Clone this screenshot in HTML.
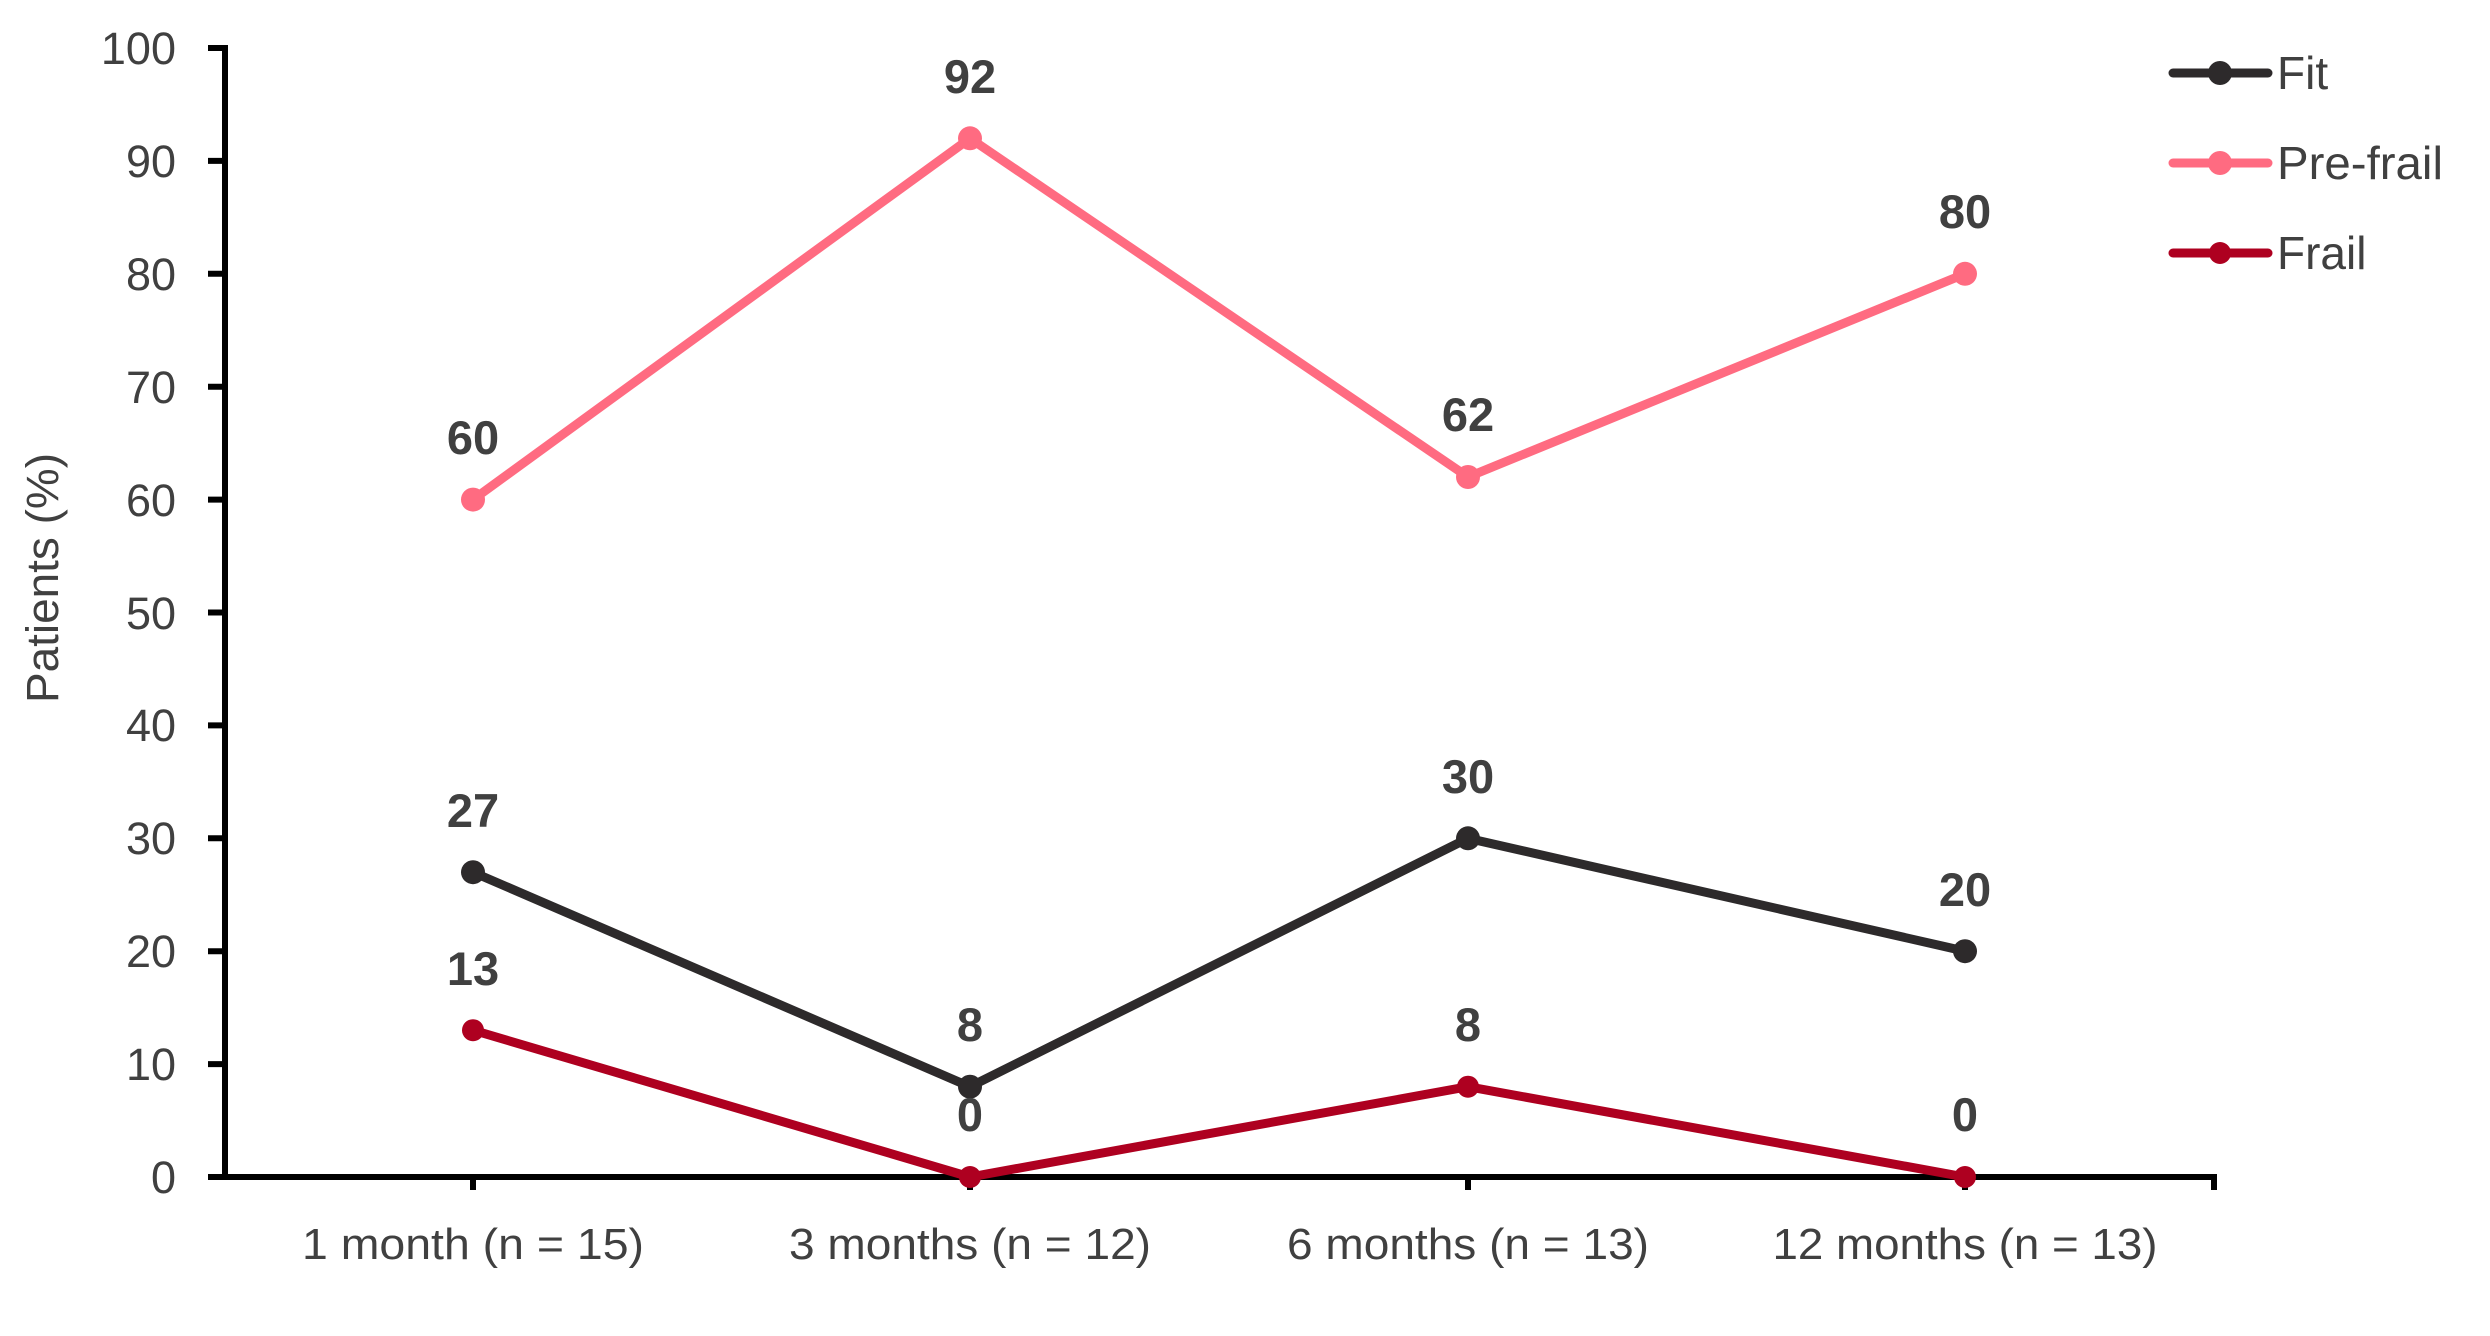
<!DOCTYPE html>
<html><head><meta charset="utf-8"><style>
html,body{margin:0;padding:0;background:#fff;}
svg{display:block;}
text{font-family:"Liberation Sans",sans-serif;fill:#404040;}
</style></head><body>
<svg width="2490" height="1336" viewBox="0 0 2490 1336" xmlns="http://www.w3.org/2000/svg">
<g stroke="#000" stroke-width="6" fill="none">
<line x1="225" y1="45" x2="225" y2="1180"/>
<line x1="222" y1="1177" x2="2217" y2="1177"/>
<line x1="2214" y1="1177" x2="2214" y2="1190"/>
<line x1="473" y1="1177" x2="473" y2="1190"/>
<line x1="970" y1="1177" x2="970" y2="1190"/>
<line x1="1468" y1="1177" x2="1468" y2="1190"/>
<line x1="1965" y1="1177" x2="1965" y2="1190"/>
<line x1="208" y1="1177" x2="225" y2="1177"/>
<line x1="208" y1="1064.1" x2="225" y2="1064.1"/>
<line x1="208" y1="951.2" x2="225" y2="951.2"/>
<line x1="208" y1="838.3" x2="225" y2="838.3"/>
<line x1="208" y1="725.4" x2="225" y2="725.4"/>
<line x1="208" y1="612.5" x2="225" y2="612.5"/>
<line x1="208" y1="499.6" x2="225" y2="499.6"/>
<line x1="208" y1="386.7" x2="225" y2="386.7"/>
<line x1="208" y1="273.8" x2="225" y2="273.8"/>
<line x1="208" y1="160.9" x2="225" y2="160.9"/>
<line x1="208" y1="48" x2="225" y2="48"/>
</g>
<g font-size="45" text-anchor="end">
<text x="176" y="1193">0</text>
<text x="176" y="1080">10</text>
<text x="176" y="967">20</text>
<text x="176" y="854">30</text>
<text x="176" y="741">40</text>
<text x="176" y="629">50</text>
<text x="176" y="516">60</text>
<text x="176" y="403">70</text>
<text x="176" y="290">80</text>
<text x="176" y="177">90</text>
<text x="176" y="64">100</text>
</g>
<text transform="translate(58,578) rotate(-90)" font-size="45" text-anchor="middle" textLength="250" lengthAdjust="spacingAndGlyphs">Patients (%)</text>
<g font-size="44" text-anchor="middle">
<text x="473" y="1259" textLength="342" lengthAdjust="spacingAndGlyphs">1 month (n = 15)</text>
<text x="970" y="1259" textLength="362" lengthAdjust="spacingAndGlyphs">3 months (n = 12)</text>
<text x="1468" y="1259" textLength="362" lengthAdjust="spacingAndGlyphs">6 months (n = 13)</text>
<text x="1965" y="1259" textLength="385" lengthAdjust="spacingAndGlyphs">12 months (n = 13)</text>
</g>
<g fill="none" stroke-width="9" stroke-linejoin="round">
<polyline stroke="#ff6b81" points="473,499.6 970,138.3 1468,477 1965,273.8"/>
<polyline stroke="#2d2a2b" points="473,872.2 970,1086.7 1468,838.3 1965,951.2"/>
<polyline stroke="#ae0020" points="473,1030.2 970,1177 1468,1086.7 1965,1177"/>
</g>
<g fill="#ff6b81"><circle cx="473" cy="499.6" r="12"/><circle cx="970" cy="138.3" r="12"/><circle cx="1468" cy="477" r="12"/><circle cx="1965" cy="273.8" r="12"/></g>
<g fill="#2d2a2b"><circle cx="473" cy="872.2" r="12"/><circle cx="970" cy="1086.7" r="12"/><circle cx="1468" cy="838.3" r="12"/><circle cx="1965" cy="951.2" r="12"/></g>
<g fill="#ae0020"><circle cx="473" cy="1030.2" r="11"/><circle cx="970" cy="1177" r="11"/><circle cx="1468" cy="1086.7" r="11"/><circle cx="1965" cy="1177" r="11"/></g>
<g font-size="47" font-weight="bold" text-anchor="middle">
<text x="473" y="454">60</text><text x="970" y="93">92</text><text x="1468" y="431">62</text><text x="1965" y="228">80</text>
<text x="473" y="827">27</text><text x="970" y="1041">8</text><text x="1468" y="793">30</text><text x="1965" y="906">20</text>
<text x="473" y="985">13</text><text x="970" y="1131">0</text><text x="1468" y="1041">8</text><text x="1965" y="1131">0</text>
</g>
<g stroke-width="9" stroke-linecap="round">
<line x1="2173" y1="73" x2="2268" y2="73" stroke="#2d2a2b"/>
<line x1="2173" y1="163" x2="2268" y2="163" stroke="#ff6b81"/>
<line x1="2173" y1="253" x2="2268" y2="253" stroke="#ae0020"/>
</g>
<circle cx="2220" cy="73" r="12" fill="#2d2a2b"/>
<circle cx="2220" cy="163" r="12" fill="#ff6b81"/>
<circle cx="2220" cy="253" r="11" fill="#ae0020"/>
<g font-size="46">
<text x="2277" y="89">Fit</text>
<text x="2277" y="179" textLength="166" lengthAdjust="spacingAndGlyphs">Pre-frail</text>
<text x="2277" y="269">Frail</text>
</g>
</svg>
</body></html>
